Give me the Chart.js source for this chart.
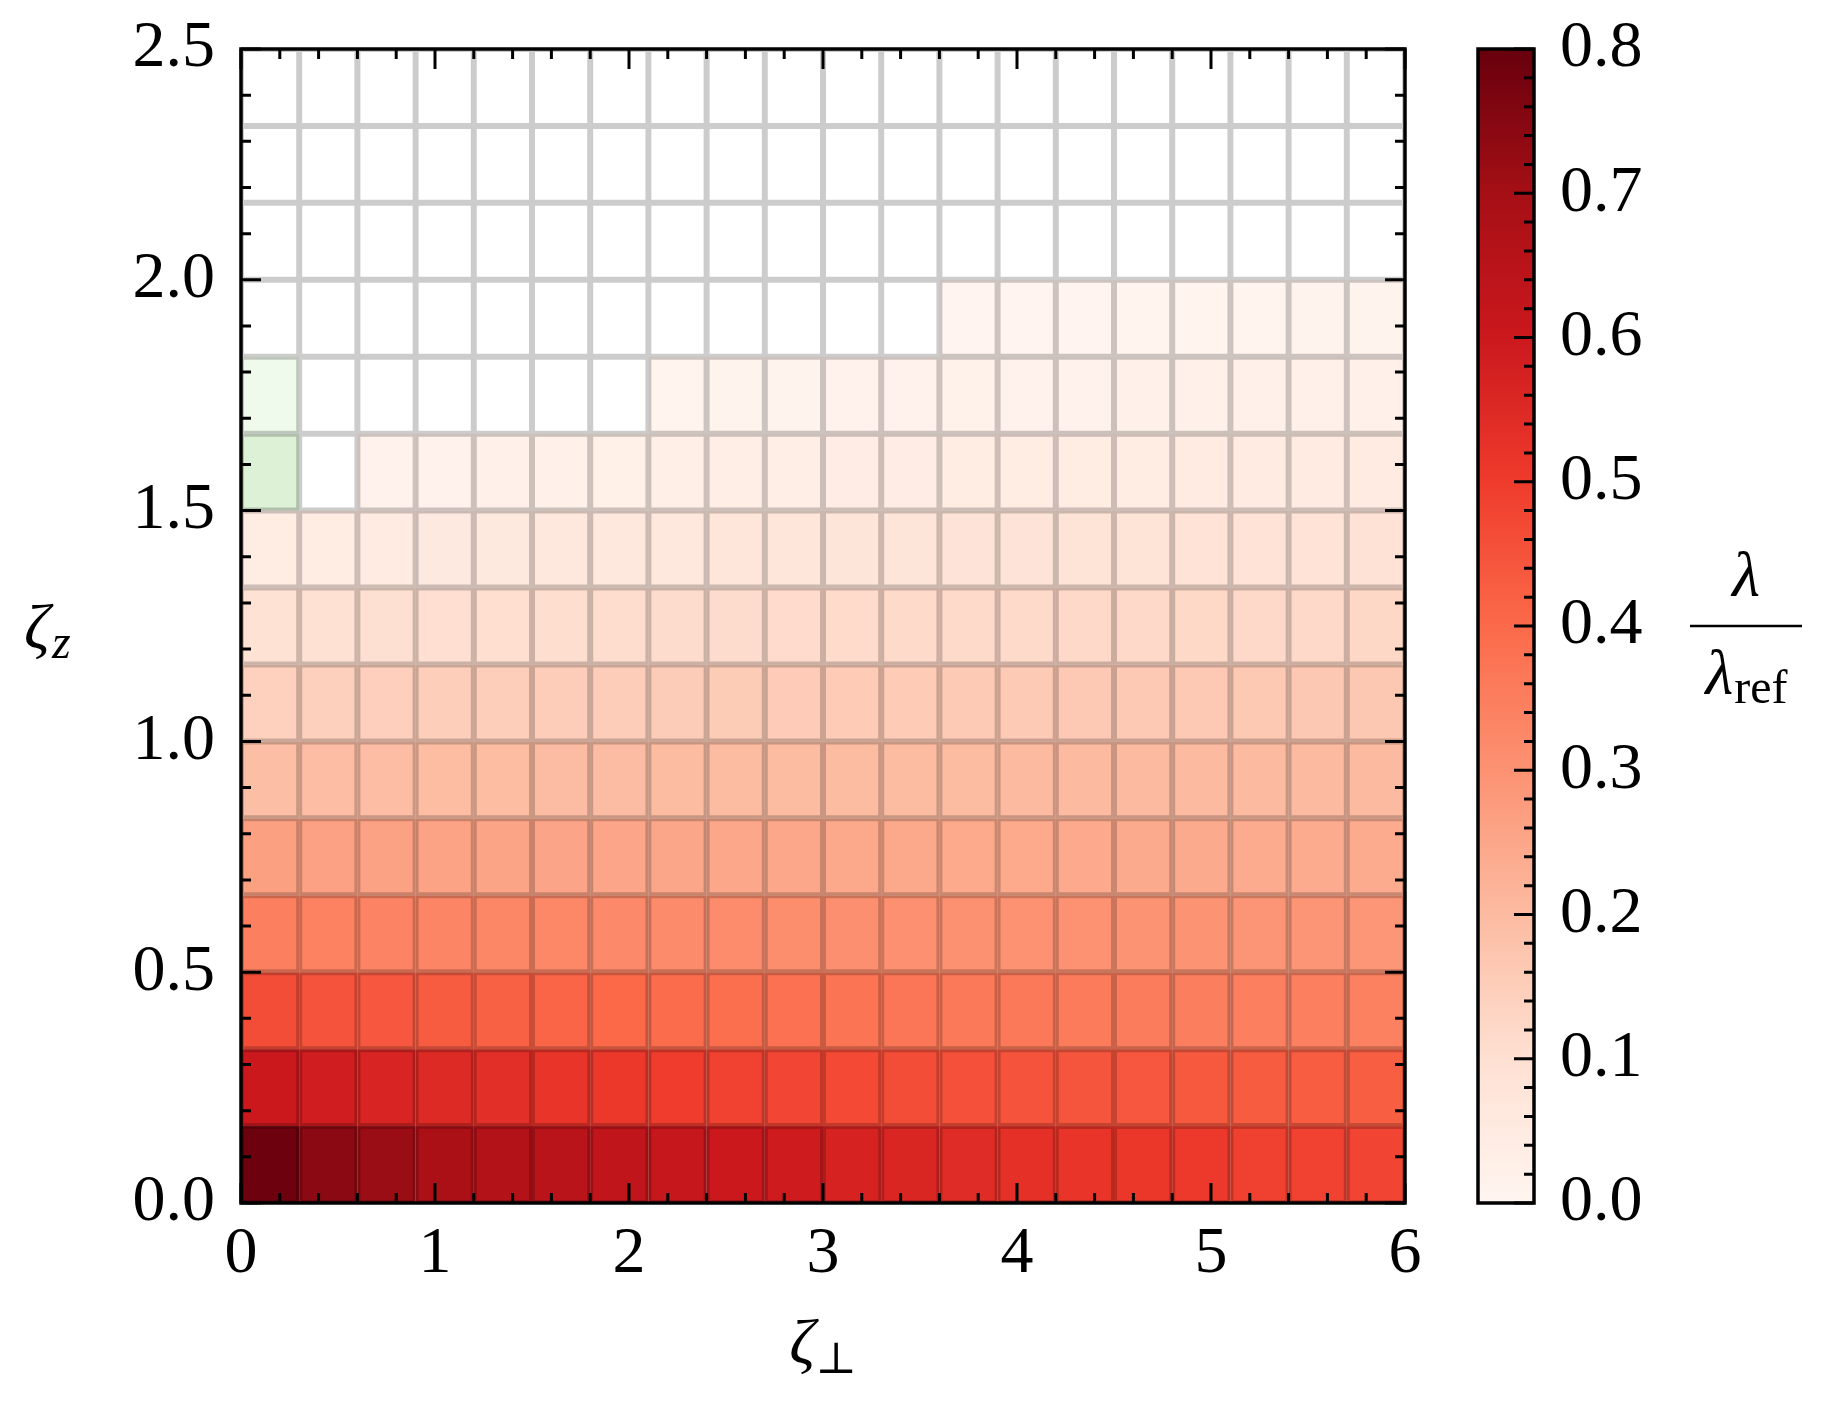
<!DOCTYPE html>
<html>
<head>
<meta charset="utf-8">
<script src="https://cdn.jsdelivr.net/npm/chart.js@4.4.1/dist/chart.umd.min.js"></script>
<style>
  html, body { margin: 0; padding: 0; background: #fff; }
  #wrap { position: relative; width: 1825px; height: 1404px; overflow: hidden; }
  #heat { position: absolute; left: 0; top: 0; }
  #cbar { position: absolute; left: 1440px; top: 0; }
</style>
</head>
<body>
<div id="wrap">
  <canvas id="heat" width="1440" height="1404"></canvas>
  <canvas id="cbar" width="385" height="1404"></canvas>
</div>
<script>
// cell edges
const zetaPerpEdges = [0, 0.3, 0.6, 0.9, 1.2, 1.5, 1.8, 2.1, 2.4, 2.7, 3.0, 3.3, 3.6, 3.9, 4.2, 4.5, 4.8, 5.1, 5.4, 5.7, 6.0];
const zetaZEdges = [0, 0.1667, 0.3333, 0.5, 0.6667, 0.8333, 1.0, 1.1667, 1.3333, 1.5, 1.6667, 1.8333, 2.0, 2.1667, 2.3333, 2.5];

// lambda / lambda_ref, one row per zeta_z band (bottom to top)
// null = empty cell, negative = shown in green
const rowZ00 = [0.79, 0.743, 0.716, 0.687, 0.666, 0.647, 0.629, 0.613, 0.6, 0.592, 0.57, 0.559, 0.542, 0.531, 0.52, 0.512, 0.506, 0.49, 0.485, 0.481];
const rowZ01 = [0.6, 0.585, 0.565, 0.55, 0.535, 0.52, 0.508, 0.497, 0.487, 0.478, 0.47, 0.462, 0.455, 0.449, 0.444, 0.44, 0.436, 0.432, 0.429, 0.426];
const rowZ02 = [0.462, 0.45, 0.44, 0.43, 0.42, 0.41, 0.402, 0.395, 0.388, 0.382, 0.376, 0.371, 0.366, 0.362, 0.358, 0.354, 0.351, 0.348, 0.345, 0.342];
const rowZ03 = [0.345, 0.34, 0.336, 0.332, 0.328, 0.324, 0.32, 0.317, 0.314, 0.311, 0.308, 0.306, 0.303, 0.301, 0.299, 0.297, 0.295, 0.293, 0.292, 0.29];
const rowZ04 = [0.266, 0.263, 0.261, 0.259, 0.257, 0.255, 0.253, 0.251, 0.25, 0.248, 0.247, 0.246, 0.245, 0.244, 0.243, 0.242, 0.241, 0.24, 0.239, 0.238];
const rowZ05 = [0.193, 0.194, 0.194, 0.195, 0.195, 0.196, 0.196, 0.197, 0.197, 0.197, 0.198, 0.198, 0.198, 0.199, 0.199, 0.199, 0.2, 0.2, 0.2, 0.2];
const rowZ06 = [0.14, 0.143, 0.145, 0.147, 0.149, 0.151, 0.152, 0.154, 0.155, 0.156, 0.157, 0.158, 0.159, 0.16, 0.161, 0.162, 0.162, 0.163, 0.164, 0.165];
const rowZ07 = [0.092, 0.096, 0.099, 0.102, 0.104, 0.106, 0.108, 0.11, 0.111, 0.113, 0.114, 0.115, 0.116, 0.117, 0.118, 0.119, 0.12, 0.121, 0.121, 0.122];
const rowZ08 = [0.04, 0.045, 0.05, 0.055, 0.059, 0.062, 0.065, 0.068, 0.071, 0.073, 0.075, 0.077, 0.079, 0.081, 0.083, 0.084, 0.086, 0.087, 0.088, 0.09];
const rowZ09 = [-0.13, null, 0.014, 0.017, 0.02, 0.023, 0.026, 0.029, 0.032, 0.034, 0.036, 0.038, 0.04, 0.042, 0.044, 0.045, 0.047, 0.048, 0.049, 0.05];
const rowZ10 = [-0.044, null, null, null, null, null, null, 0.006, 0.008, 0.01, 0.012, 0.014, 0.016, 0.017, 0.018, 0.02, 0.021, 0.022, 0.023, 0.024];
const rowZ11 = [null, null, null, null, null, null, null, null, null, null, null, null, 0.003, 0.004, 0.005, 0.006, 0.006, 0.007, 0.008, 0.008];
const rowZ12 = [null, null, null, null, null, null, null, null, null, null, null, null, null, null, null, null, null, null, null, null];
const rowZ13 = [null, null, null, null, null, null, null, null, null, null, null, null, null, null, null, null, null, null, null, null];
const rowZ14 = [null, null, null, null, null, null, null, null, null, null, null, null, null, null, null, null, null, null, null, null];
const lambdaGrid = [rowZ00, rowZ01, rowZ02, rowZ03, rowZ04, rowZ05, rowZ06, rowZ07, rowZ08, rowZ09, rowZ10, rowZ11, rowZ12, rowZ13, rowZ14];

const xTickLabels = [0, 1, 2, 3, 4, 5, 6];
const yTickLabels = [0, 0.5, 1.0, 1.5, 2.0, 2.5];
const cbarTickLabels = [0, 0.1, 0.2, 0.3, 0.4, 0.5, 0.6, 0.7, 0.8];
const cbarMin = 0;
const cbarMax = 0.8;

// matplotlib Reds / Greens
const REDS = ['#fff5f0', '#fee0d2', '#fcbba1', '#fc9272', '#fb6a4a', '#ef3b2c', '#cb181d', '#a50f15', '#67000d'];
const GREENS = ['#f7fcf5', '#e5f5e0', '#c7e9c0', '#a1d99b', '#74c476', '#41ab5d', '#238b45', '#006d2c', '#00441b'];

const FONT = '"Liberation Serif", "DejaVu Serif", serif';
const tickFont = { family: FONT, size: 66 };

function hexRgb(h) {
  return [parseInt(h.slice(1, 3), 16), parseInt(h.slice(3, 5), 16), parseInt(h.slice(5, 7), 16)];
}

function cmap(stops, t) {
  t = Math.max(0, Math.min(1, t));
  const p = t * (stops.length - 1);
  const i = Math.min(Math.floor(p), stops.length - 2);
  const f = p - i;
  const a = hexRgb(stops[i]), b = hexRgb(stops[i + 1]);
  const c = a.map((v, k) => Math.round(v + (b[k] - v) * f));
  return `rgb(${c[0]},${c[1]},${c[2]})`;
}

function stepValues(min, max, step) {
  const out = [];
  const n = Math.round((max - min) / step);
  for (let k = 0; k <= n; k++) out.push(+(min + k * step).toFixed(6));
  return out;
}

function isOn(v, step) {
  return Math.abs(v / step - Math.round(v / step)) < 1e-6;
}

// keep label overflow from pushing the plot area around
function noPad(s) {
  s.paddingTop = 0; s.paddingBottom = 0; s.paddingLeft = 0; s.paddingRight = 0;
}

Chart.defaults.color = '#000';

const heatmapPlugin = {
  id: 'heatmap',
  beforeDatasetsDraw(chart) {
    const { ctx, chartArea: a, scales: { x, y } } = chart;
    ctx.save();
    lambdaGrid.forEach((row, j) => {
      row.forEach((v, i) => {
        if (v === null) return;
        const x0 = x.getPixelForValue(zetaPerpEdges[i]);
        const x1 = x.getPixelForValue(zetaPerpEdges[i + 1]);
        const y0 = y.getPixelForValue(zetaZEdges[j + 1]);
        const y1 = y.getPixelForValue(zetaZEdges[j]);
        ctx.fillStyle = v < 0 ? cmap(GREENS, -v / cbarMax) : cmap(REDS, (v - cbarMin) / (cbarMax - cbarMin));
        ctx.fillRect(x0, y0, x1 - x0, y1 - y0);
      });
    });

    // cell edges
    ctx.beginPath();
    ctx.rect(a.left, a.top, a.right - a.left, a.bottom - a.top);
    ctx.clip();
    ctx.strokeStyle = 'rgba(0,0,0,0.2)';
    ctx.lineWidth = 6;
    ctx.beginPath();
    zetaPerpEdges.forEach(e => {
      const px = x.getPixelForValue(e);
      ctx.moveTo(px, a.top);
      ctx.lineTo(px, a.bottom);
    });
    zetaZEdges.forEach(e => {
      const py = y.getPixelForValue(e);
      ctx.moveTo(a.left, py);
      ctx.lineTo(a.right, py);
    });
    ctx.stroke();
    ctx.restore();
  }
};

const framePlugin = {
  id: 'frame',
  afterDraw(chart) {
    const { ctx, chartArea: a, scales: { x, y } } = chart;
    ctx.save();
    ctx.strokeStyle = '#000';
    ctx.lineWidth = 3;
    ctx.beginPath();
    stepValues(0, 6, 0.2).forEach(v => {
      const len = isOn(v, 1) ? 20 : 10;
      const px = x.getPixelForValue(v);
      ctx.moveTo(px, a.bottom); ctx.lineTo(px, a.bottom - len);
      ctx.moveTo(px, a.top); ctx.lineTo(px, a.top + len);
    });
    stepValues(0, 2.5, 0.1).forEach(v => {
      const len = isOn(v, 0.5) ? 20 : 10;
      const py = y.getPixelForValue(v);
      ctx.moveTo(a.left, py); ctx.lineTo(a.left + len, py);
      ctx.moveTo(a.right, py); ctx.lineTo(a.right - len, py);
    });
    ctx.stroke();
    ctx.lineWidth = 3.5;
    ctx.strokeRect(a.left, a.top, a.right - a.left, a.bottom - a.top);

    // axis labels
    ctx.fillStyle = '#000';
    ctx.textBaseline = 'alphabetic';
    ctx.textAlign = 'left';
    const cx = (a.left + a.right) / 2;
    ctx.font = `italic 64px ${FONT}`;
    const wz = ctx.measureText('ζ').width;
    ctx.font = `44px "DejaVu Serif", ${FONT}`;
    const wp = ctx.measureText('⊥').width;
    const x0 = cx - (wz + wp) / 2;
    ctx.font = `italic 64px ${FONT}`;
    ctx.fillText('ζ', x0, a.bottom + 160);
    ctx.font = `44px "DejaVu Serif", ${FONT}`;
    ctx.fillText('⊥', x0 + wz, a.bottom + 170);

    const cy = (a.top + a.bottom) / 2;
    ctx.font = `italic 64px ${FONT}`;
    ctx.fillText('ζ', 24, cy + 22);
    ctx.font = `italic 48px ${FONT}`;
    ctx.fillText('z', 26 + wz, cy + 32);
    ctx.restore();
  }
};

new Chart(document.getElementById('heat'), {
  type: 'scatter',
  data: { datasets: [] },
  options: {
    responsive: false,
    animation: false,
    devicePixelRatio: 1,
    layout: { padding: { left: 0, top: 49, right: 35, bottom: 0 } },
    plugins: { legend: { display: false }, tooltip: { enabled: false } },
    scales: {
      x: {
        type: 'linear',
        min: 0,
        max: 6,
        afterBuildTicks: s => { s.ticks = xTickLabels.map(v => ({ value: v })); },
        afterFit: s => { s.height = 201; noPad(s); },
        grid: { display: false, drawTicks: false },
        border: { display: false },
        ticks: { padding: 12, font: tickFont, maxRotation: 0, autoSkip: false, callback: v => String(v) }
      },
      y: {
        type: 'linear',
        min: 0,
        max: 2.5,
        afterBuildTicks: s => { s.ticks = yTickLabels.map(v => ({ value: v })); },
        afterFit: s => { s.width = 241; noPad(s); },
        grid: { display: false, drawTicks: false },
        border: { display: false },
        ticks: { padding: 26, font: tickFont, autoSkip: false, callback: v => Number(v).toFixed(1) }
      }
    }
  },
  plugins: [heatmapPlugin, framePlugin]
});

// Colorbar
const colorbarPlugin = {
  id: 'colorbar',
  beforeDatasetsDraw(chart) {
    const { ctx, chartArea: a, scales: { y } } = chart;
    ctx.save();
    const g = ctx.createLinearGradient(0, y.getPixelForValue(cbarMin), 0, y.getPixelForValue(cbarMax));
    REDS.forEach((c, k) => g.addColorStop(k / (REDS.length - 1), c));
    ctx.fillStyle = g;
    ctx.fillRect(a.left, a.top, a.right - a.left, a.bottom - a.top);
    ctx.restore();
  },
  afterDraw(chart) {
    const { ctx, chartArea: a, scales: { y } } = chart;
    ctx.save();
    ctx.strokeStyle = '#000';
    ctx.lineWidth = 3;
    ctx.beginPath();
    stepValues(cbarMin, cbarMax, 0.02).forEach(v => {
      const len = isOn(v, 0.1) ? 20 : 10;
      const py = y.getPixelForValue(v);
      ctx.moveTo(a.right, py); ctx.lineTo(a.right - len, py);
    });
    ctx.stroke();
    ctx.lineWidth = 3.5;
    ctx.strokeRect(a.left, a.top, a.right - a.left, a.bottom - a.top);

    // lambda / lambda_ref label
    const cx = a.right + 212;
    const cy = (a.top + a.bottom) / 2;
    ctx.fillStyle = '#000';
    ctx.textBaseline = 'alphabetic';
    ctx.font = `italic 64px ${FONT}`;
    ctx.textAlign = 'center';
    ctx.fillText('λ', cx, cy - 30);
    ctx.lineWidth = 2.5;
    ctx.beginPath();
    ctx.moveTo(cx - 56, cy); ctx.lineTo(cx + 56, cy);
    ctx.stroke();
    ctx.textAlign = 'left';
    const wl = ctx.measureText('λ').width;
    ctx.font = `48px ${FONT}`;
    const wr = ctx.measureText('ref').width;
    const x0 = cx - (wl + wr) / 2;
    ctx.font = `italic 64px ${FONT}`;
    ctx.fillText('λ', x0, cy + 68);
    ctx.font = `48px ${FONT}`;
    ctx.fillText('ref', x0 + wl + 1, cy + 77);
    ctx.restore();
  }
};

new Chart(document.getElementById('cbar'), {
  type: 'scatter',
  data: { datasets: [] },
  options: {
    responsive: false,
    animation: false,
    devicePixelRatio: 1,
    layout: { padding: { left: 38, top: 49, right: 0, bottom: 201 } },
    plugins: { legend: { display: false }, tooltip: { enabled: false } },
    scales: {
      x: { type: 'linear', display: false, min: 0, max: 1 },
      y: {
        type: 'linear',
        position: 'right',
        min: cbarMin,
        max: cbarMax,
        afterBuildTicks: s => { s.ticks = cbarTickLabels.map(v => ({ value: v })); },
        afterFit: s => { s.width = 291; noPad(s); },
        grid: { display: false, drawTicks: false },
        border: { display: false },
        ticks: { padding: 26, font: tickFont, autoSkip: false, callback: v => Number(v).toFixed(1) }
      }
    }
  },
  plugins: [colorbarPlugin]
});
</script>
</body>
</html>
